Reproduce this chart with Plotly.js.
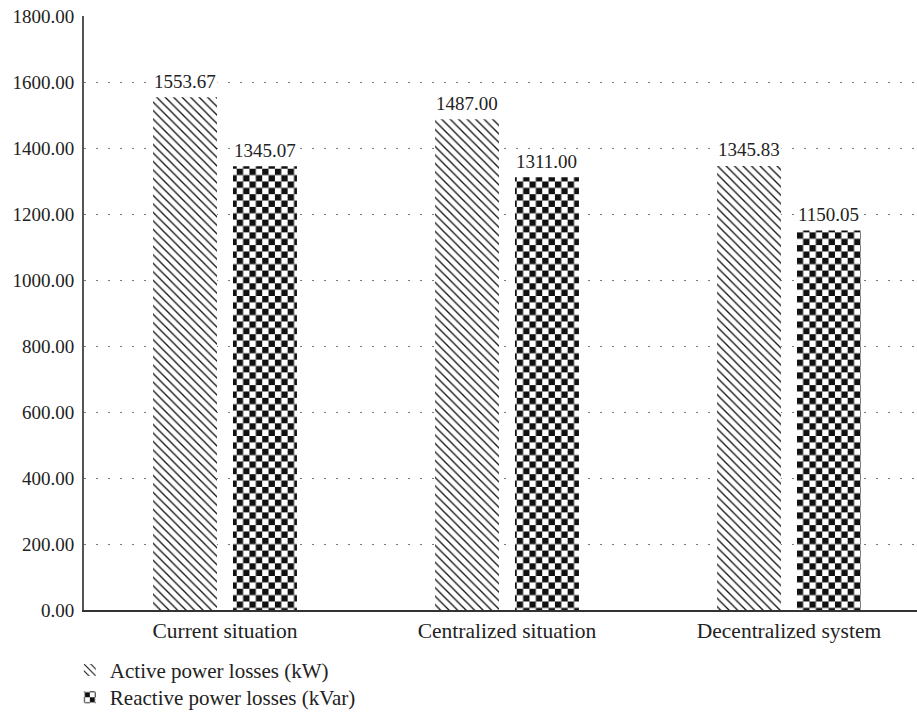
<!DOCTYPE html>
<html>
<head>
<meta charset="utf-8">
<script src="https://cdn.plot.ly/plotly-3.0.1.min.js"></script>
<style>
  html, body { margin: 0; padding: 0; background: #ffffff; overflow: hidden; }
  #chart { width: 917px; height: 712px; }
</style>
</head>
<body>
<div id="chart"></div>
<script>
// Power losses per scenario
const categories = ['Current situation', 'Centralized situation', 'Decentralized system'];
const activeLosses = [1553.67, 1487.00, 1345.83];   // kW
const reactiveLosses = [1345.07, 1311.00, 1150.05]; // kVar
const seriesNames = ['Active power losses (kW)', 'Reactive power losses (kVar)'];
const yTicks = [0, 200, 400, 600, 800, 1000, 1200, 1400, 1600, 1800];

const FONT = 'Liberation Serif, Times New Roman, serif';
const NUM_SIZE = 19;   // numeric labels
const WORD_SIZE = 21;  // category and legend labels
const INK = '#222222';

const traces = [
  {
    type: 'bar',
    name: seriesNames[0],
    legend: 'legend',
    x: categories,
    y: activeLosses,
    marker: {
      color: '#ffffff',
      line: { width: 0 },
      pattern: { shape: '\\', fgcolor: '#111111', bgcolor: '#ffffff', size: 6, solidity: 0.22 }
    },
    hoverinfo: 'skip'
  },
  {
    type: 'bar',
    name: seriesNames[1],
    legend: 'legend2',
    x: categories,
    y: reactiveLosses,
    marker: {
      color: '#ffffff',
      line: { width: 0 },
      pattern: { shape: 'x', fgcolor: '#111111', bgcolor: '#ffffff', size: 9, solidity: 0.5 }
    },
    hoverinfo: 'skip'
  }
];

// Value labels above each bar, on a white box that breaks the dotted grid
const annotations = [];
[activeLosses, reactiveLosses].forEach((vals, s) => {
  vals.forEach((v, i) => {
    annotations.push({
      x: categories[i],
      y: v,
      xref: 'x',
      yref: 'y',
      text: v.toFixed(2),
      showarrow: false,
      xshift: s === 0 ? -40 : 40,
      yshift: 16,
      bgcolor: '#ffffff',
      borderpad: 1,
      font: { family: FONT, size: NUM_SIZE, color: INK }
    });
  });
});

const legendBase = {
  orientation: 'v',
  x: -0.017,
  xanchor: 'left',
  yanchor: 'top',
  bgcolor: 'rgba(0,0,0,0)',
  font: { family: FONT, size: WORD_SIZE, color: INK }
};

const layout = {
  width: 917,
  height: 712,
  margin: { l: 84, r: 0, t: 16, b: 102, pad: 0, autoexpand: false },
  paper_bgcolor: '#ffffff',
  plot_bgcolor: '#ffffff',
  font: { family: FONT, size: WORD_SIZE, color: INK },
  barmode: 'group',
  bargap: 0.433,
  bargroupgap: 0.2,
  showlegend: true,
  legend: Object.assign({}, legendBase, { y: -0.067 }),
  legend2: Object.assign({}, legendBase, { y: -0.113 }),
  xaxis: {
    type: 'category',
    range: [-0.5, 2.454],
    showgrid: false,
    showline: true,
    linecolor: '#333333',
    linewidth: 2,
    ticks: '',
    ticklabelstandoff: 0,
    tickfont: { family: FONT, size: 21.5, color: INK },
    fixedrange: true
  },
  yaxis: {
    range: [0, 1800],
    tickvals: yTicks,
    tickformat: '.2f',
    showgrid: true,
    gridcolor: '#7a7a7a',
    gridwidth: 1,
    griddash: '1.5px,10.5px',
    zeroline: false,
    showline: true,
    linecolor: '#555555',
    linewidth: 2,
    ticks: '',
    ticklabelstandoff: 4,
    tickfont: { family: FONT, size: NUM_SIZE, color: INK },
    fixedrange: true
  },
  annotations: annotations
};

// Turn the reactive-loss fill tile into a square checkerboard
function checkerTile(gd) {
  const ids = new Set();
  const grab = el => {
    const f = el.style.fill || el.getAttribute('fill') || '';
    const m = f.match(/url\(["']?#([^"')]+)["']?\)/);
    if (m) ids.add(m[1]);
  };
  const barTraces = gd.querySelectorAll('.barlayer .trace.bars');
  if (barTraces[1]) barTraces[1].querySelectorAll('path').forEach(grab);
  gd.querySelectorAll('.legend2 .legendpoints path, g[class*="legend2"] .legendpoints path').forEach(grab);

  const NS = 'http://www.w3.org/2000/svg';
  ids.forEach(id => {
    const pat = document.getElementById(id);
    if (!pat) return;
    const w = parseFloat(pat.getAttribute('width')) || 9;
    const h = parseFloat(pat.getAttribute('height')) || 9;
    while (pat.firstChild) pat.removeChild(pat.firstChild);
    const cells = [[0, 0, w, h, '#ffffff'], [0, 0, w / 2, h / 2, '#111111'], [w / 2, h / 2, w / 2, h / 2, '#111111']];
    cells.forEach(([x, y, cw, ch, c]) => {
      const r = document.createElementNS(NS, 'rect');
      r.setAttribute('x', x);
      r.setAttribute('y', y);
      r.setAttribute('width', cw);
      r.setAttribute('height', ch);
      r.setAttribute('fill', c);
      pat.appendChild(r);
    });
  });
}

Plotly.newPlot('chart', traces, layout, { displayModeBar: false, staticPlot: true })
  .then(gd => checkerTile(gd));
</script>
</body>
</html>
